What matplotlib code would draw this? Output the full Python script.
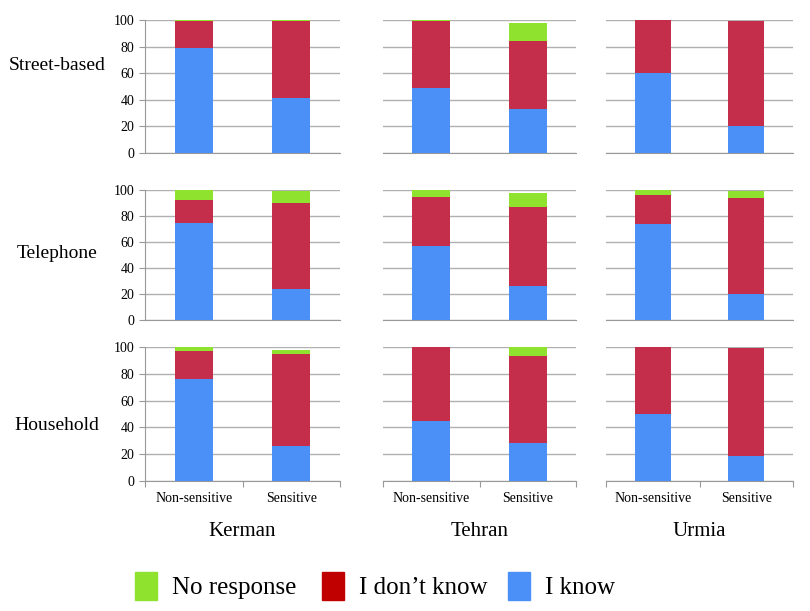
import numpy as np
from matplotlib import pyplot as plt

plt.rcParams['font.family'] = ['Liberation Serif', 'DejaVu Serif']

cities = ['Kerman', 'Tehran', 'Urmia']
methods = ['Street-based', 'Telephone', 'Household']
questions = ['Non-sensitive', 'Sensitive']

# percentages [method][city][question]
i_know = [[[79, 41], [49, 33], [60, 20]],
          [[75, 24], [57, 26], [74, 20]],
          [[76, 26], [45, 28], [50, 19]]]
dont_know = [[[20, 58], [50.5, 51], [40, 79]],
             [[17, 66], [38, 61], [22, 74]],
             [[21, 69], [55, 65], [50, 80]]]
no_response = [[[1, 1], [0.3, 14], [0, 0.3]],
               [[8, 9], [5, 11], [4, 5]],
               [[3, 3], [0, 7], [0, 0.3]]]

c_know = '#4a90f7'
c_dont = '#c42e4a'
c_none = '#8fe22e'

fig = plt.figure(figsize=(8.1, 6.11), dpi=100)
W, H = 810, 611
col_x = [(145, 340), (383, 576), (606, 793)]
row_y = [(20, 153), (190, 320), (347, 481)]
row_label_y = [65, 253, 425]

x = np.arange(len(questions))
for r in range(3):
    for c in range(3):
        x0, x1 = col_x[c]
        y0, y1 = row_y[r]
        ax = fig.add_axes([x0 / W, 1 - y1 / H, (x1 - x0) / W, (y1 - y0) / H])
        k = np.array(i_know[r][c])
        d = np.array(dont_know[r][c])
        n = np.array(no_response[r][c])
        ax.bar(x, k, 0.39, color=c_know, zorder=3)
        ax.bar(x, d, 0.39, bottom=k, color=c_dont, zorder=3)
        ax.bar(x, n, 0.39, bottom=k + d, color=c_none, zorder=3)
        ax.set_xlim(-0.5, 1.5)
        ax.set_ylim(0, 100)
        ax.set_yticks(range(0, 101, 20))
        ax.yaxis.grid(True, color='#b0b0b0', lw=1)
        for s in ['top', 'right']:
            ax.spines[s].set_visible(False)
        ax.spines['bottom'].set_color('#999999')
        ax.spines['left'].set_color('#999999')
        ax.tick_params(axis='y', length=4, color='#999999', labelsize=10)
        if c > 0:
            ax.spines['left'].set_visible(False)
            ax.tick_params(axis='y', length=0, labelleft=False)
        if r == 2:
            ax.set_xticks([-0.5, 0.5, 1.5])
            ax.set_xticklabels([])
            ax.set_xticks(x, minor=True)
            ax.set_xticklabels(questions, minor=True, fontsize=10)
            ax.tick_params(axis='x', which='major', length=4, color='#999999')
            ax.tick_params(axis='x', which='minor', length=0, pad=8)
        else:
            ax.set_xticks([])
    fig.text(57 / W, 1 - row_label_y[r] / H, methods[r], fontsize=14,
             ha='center', va='center')

for c in range(3):
    fig.text((col_x[c][0] + col_x[c][1]) / 2 / W, 1 - 532 / H, cities[c],
             fontsize=15, ha='center', va='center')

legend_colors = [c_none, '#c00000', c_know]
legend_labels = ['No response', 'I don\u2019t know', 'I know']
for col, lab, lx in zip(legend_colors, legend_labels, [135, 322, 508]):
    fig.patches.append(plt.Rectangle((lx / W, 1 - 600 / H), 22 / W, 28 / H,
                                     color=col, transform=fig.transFigure))
    fig.text((lx + 37) / W, 1 - 588 / H, lab, fontsize=18, va='center')

plt.savefig('out.png', dpi=100)
